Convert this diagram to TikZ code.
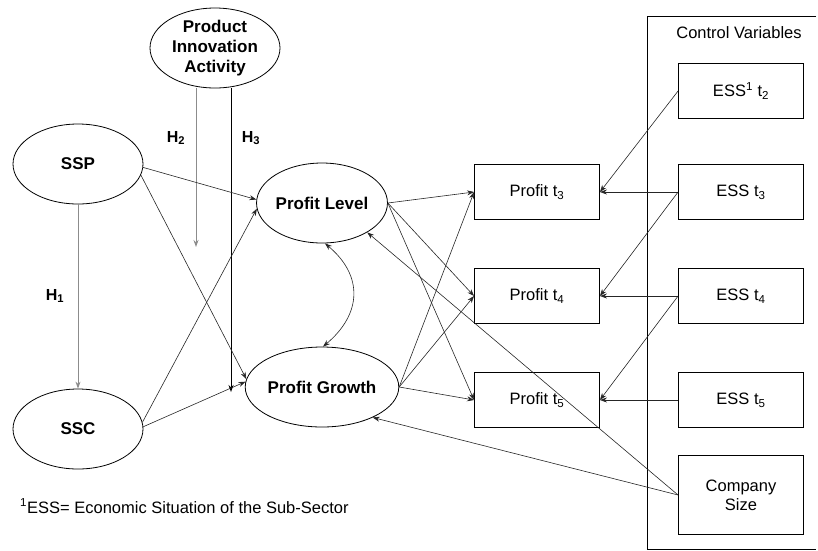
\documentclass[tikz,border=0pt]{standalone}
\usepackage{fontspec}
\setmainfont{Liberation Sans}
\usetikzlibrary{arrows.meta,shapes.geometric}

\tikzset{
  latent/.style={draw, ellipse, line width=0.8pt, minimum width=130pt,
    minimum height=80pt, inner sep=0pt, font=\fontsize{17}{20}\selectfont\bfseries,
    align=center},
  obsbox/.style={draw, rectangle, line width=0.9pt, minimum width=125pt,
    minimum height=55pt, inner sep=0pt, font=\fontsize{16.5}{19}\selectfont,
    align=center},
  link/.style={line width=0.6pt, draw=black!85,
    -{Stealth[length=7pt,width=5pt]}},
  graylink/.style={line width=0.9pt, draw=black!45,
    -{Stealth[length=7pt,width=5pt]}},
  twoway/.style={line width=0.6pt, draw=black!85,
    {Stealth[length=7pt,width=5pt]}-{Stealth[length=7pt,width=5pt]}},
  hlabel/.style={font=\fontsize{16}{19}\selectfont\bfseries},
}

\begin{document}
\begin{tikzpicture}[x=1pt, y=-1pt]
\useasboundingbox (0,0) rectangle (818,550);

% control-variable frame (open on the right edge)
\draw[line width=1pt] (816,16) -- (647,16) -- (647,549) -- (816,549);
\node[font=\fontsize{16.5}{19}\selectfont] (ctrl) at (739,33) {Control Variables};

% latent constructs
\node[latent] (PIA) at (215,48) {Product\\Innovation\\Activity};
\node[latent] (SSP) at (78,164) {SSP};
\node[latent] (SSC) at (78,429) {SSC};
\node[latent] (PL) at (322,203) {Profit Level};
\node[latent] (PG) at (322,387) {Profit Growth};

% observed profit indicators
\node[obsbox] (P3) at (537,192) {Profit t\textsubscript{3}};
\node[obsbox] (P4) at (537,296) {Profit t\textsubscript{4}};
\node[obsbox] (P5) at (537,400) {Profit t\textsubscript{5}};

% control variables
\node[obsbox] (E2) at (741,91) {ESS\textsuperscript{1} t\textsubscript{2}};
\node[obsbox] (E3) at (741,192) {ESS t\textsubscript{3}};
\node[obsbox] (E4) at (741,296) {ESS t\textsubscript{4}};
\node[obsbox] (E5) at (741,400) {ESS t\textsubscript{5}};
\node[obsbox, minimum height=79pt] (CS) at (741,495) {Company\\Size};

% moderator arrows
\coordinate (h2end) at (196,247);
\coordinate (h3end) at (231,392);
\draw[graylink] (PIA.south -| h2end) -- (h2end);
\draw[link, line width=0.9pt, draw=black] (PIA.south -| h3end) -- (h3end);
\node[hlabel] (H2) at (176,138) {H\textsubscript{2}};
\node[hlabel] (H3) at (251,138) {H\textsubscript{3}};

% H1
\draw[graylink] (SSP.south) -- (SSC.north);
\node[hlabel] (H1) at (55,296) {H\textsubscript{1}};

% structural paths
\draw[link] (SSP.-3) -- (PL.177);
\draw[link] (SSP.-10) -- (PG.174);
\draw[link] (SSC.6) -- (PL.185);
\draw[link] (SSC.2) -- (PG.176);
\draw[twoway] ([xshift=3pt]PL.south) to[out=-40, in=40, looseness=1.25] ([xshift=1pt]PG.north);

% measurement paths
\foreach \p in {P3,P4,P5}{
  \draw[link] (PL.east) -- (\p.west);
  \draw[link] (PG.east) -- (\p.west);
}

% control effects
\draw[link] (E2.west) -- (P3.east);
\draw[link] (E3.west) -- (P3.east);
\draw[link] (E3.west) -- (P4.east);
\draw[link] (E4.west) -- (P4.east);
\draw[link] (E4.west) -- (P5.east);
\draw[link] (E5.west) -- (P5.east);
\draw[link] (CS.west) -- (PL.-33);
\draw[link] (CS.west) -- (PG.-31);

% footnote
\node[font=\fontsize{16.5}{19}\selectfont, anchor=west, inner sep=0pt] (note) at (20,506)
  {\textsuperscript{1}ESS= Economic Situation of the Sub-Sector};
\end{tikzpicture}
\end{document}
